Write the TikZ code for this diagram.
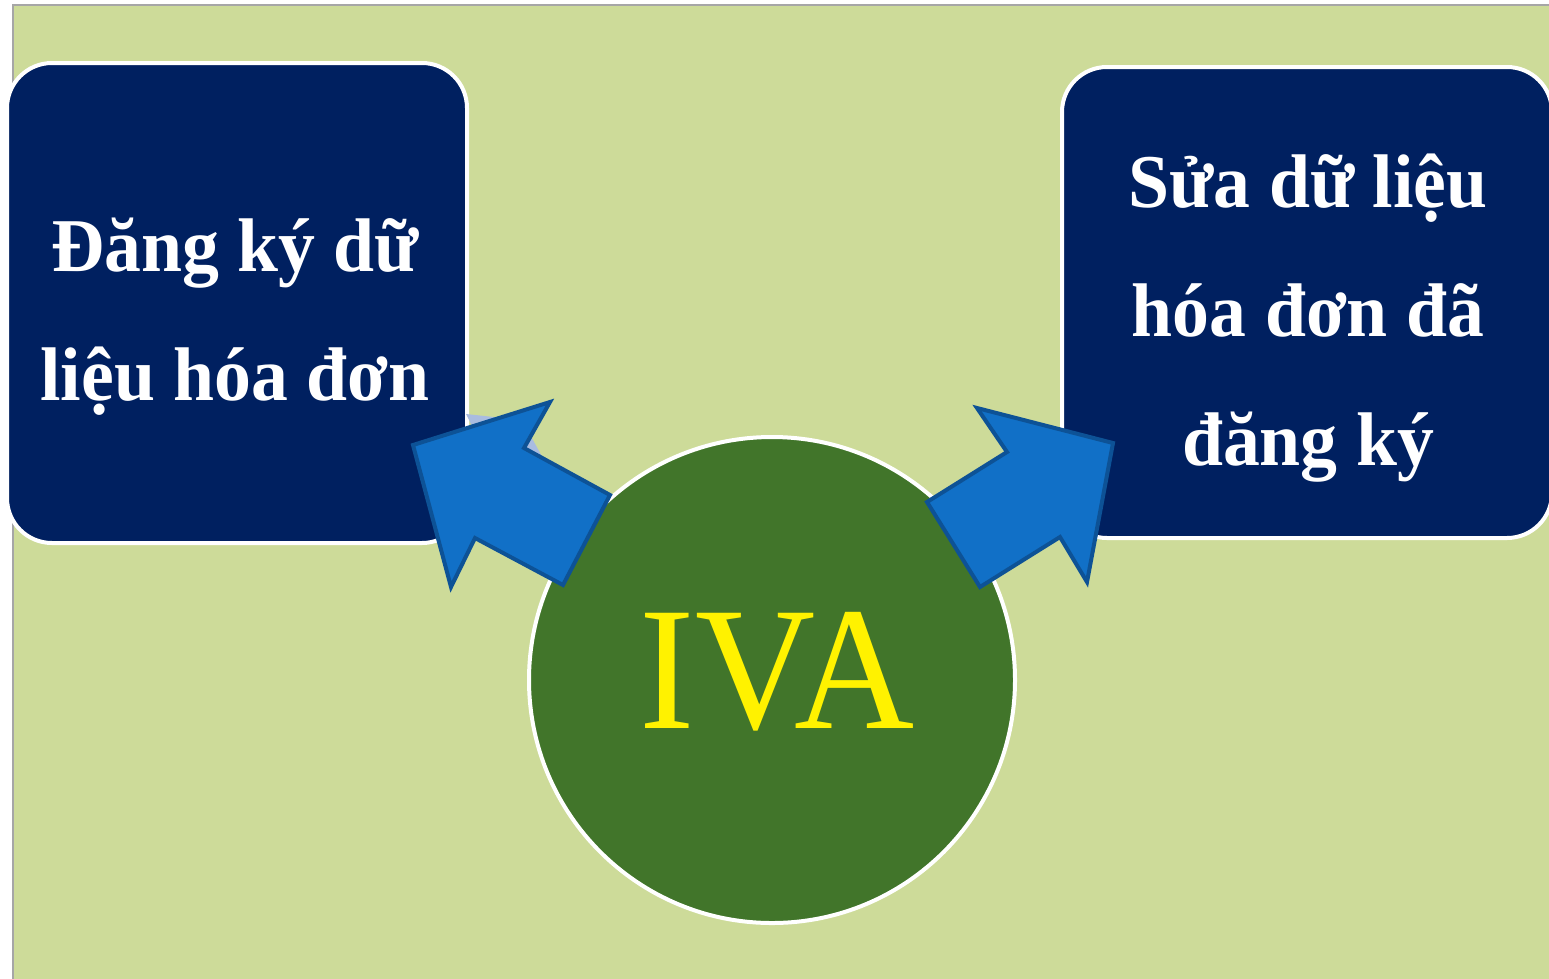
\documentclass[tikz,border=0pt]{standalone}
\usepackage{fontspec}
\setmainfont{Liberation Serif}
\definecolor{bggreen}{HTML}{CDDB99}
\definecolor{navy}{HTML}{002060}
\definecolor{dgreen}{HTML}{41752A}
\definecolor{arrfill}{HTML}{1170C7}
\definecolor{arrline}{HTML}{0D5296}
\definecolor{paleblue}{HTML}{A9BCE0}
\definecolor{edgegrey}{HTML}{A6A6A6}
\tikzset{
  box/.style={fill=navy, draw=white, line width=4pt, rounded corners=45pt},
  boxtext/.style={text=white, font=\fontsize{76}{129}\selectfont\bfseries, align=center, anchor=base, inner sep=0pt, xscale=0.97},
  bigarrow/.style={fill=arrfill, draw=arrline, line width=4pt, line join=miter},
}
\begin{document}
\begin{tikzpicture}[x=1pt,y=-1pt]
\useasboundingbox (0,0) rectangle (1549,978);
\fill[white] (0,0) rectangle (1549,978);
\fill[bggreen] (13,5) rectangle (1560,990);
\draw[edgegrey, line width=1.5pt] (13,990) -- (13,5) -- (1560,5);
% boxes
\draw[box] (7,63) rectangle (467,543);
\draw[box] (1062,67) rectangle (1552,538);
\node[boxtext] (lefttext) at (235,400) {Đăng ký dữ\\liệu hóa đơn};
\node[boxtext] (righttext) at (1308,465) {Sửa dữ liệu\\hóa đơn đã\\đăng ký};
% circle
\node[circle, fill=dgreen, draw=white, line width=4pt, minimum size=486pt, inner sep=0pt] (iva) at (772,680) {};
\node[text=yellow, font=\fontsize{176}{176}\selectfont, anchor=base, inner sep=0pt, xscale=0.945] (ivatext) at (777,728) {IVA};
% pale sliver
\fill[paleblue] (466,414) -- (522,420) -- (545,462) -- (485,452) -- cycle;
% arrows
\draw[bigarrow] (413,445) -- (550,402) -- (524,448) -- (610,495) -- (563,585) -- (475,538) -- (451,587) -- cycle;
\draw[bigarrow] (1113,443) -- (977,408) -- (1007,452) -- (927,502) -- (980,587) -- (1060,537) -- (1087,582) -- cycle;
\end{tikzpicture}
\end{document}
